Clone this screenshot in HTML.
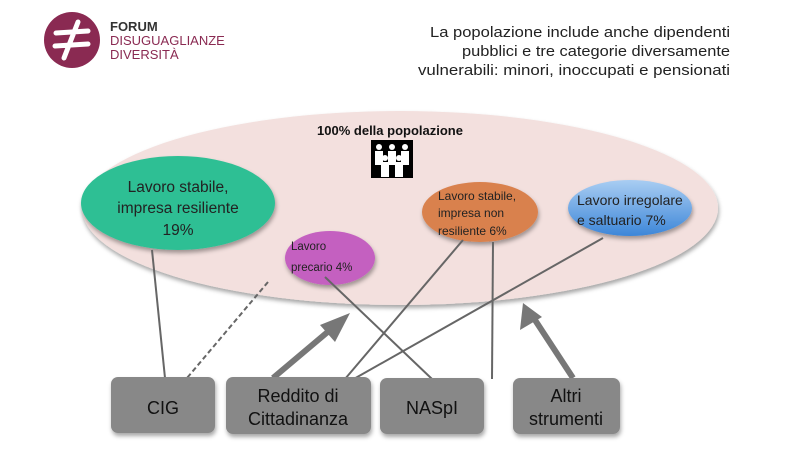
<!DOCTYPE html>
<html><head><meta charset="utf-8"><style>
body{margin:0;width:800px;height:450px;background:#fff;overflow:hidden;font-family:"Liberation Sans","DejaVu Sans",sans-serif}
</style></head><body>
<svg width="800" height="450" viewBox="0 0 800 450" xmlns="http://www.w3.org/2000/svg" font-family="'Liberation Sans','DejaVu Sans',sans-serif">
<defs>
<filter id="sh" x="-20%" y="-20%" width="140%" height="150%"><feDropShadow dx="1" dy="3" stdDeviation="2" flood-opacity="0.35"/></filter>
<linearGradient id="gb" x1="0" y1="0" x2="0" y2="1"><stop offset="0" stop-color="#a9cdf2"/><stop offset="1" stop-color="#3d86d8"/></linearGradient>
</defs>
<!-- logo -->
<circle cx="72" cy="40" r="28" fill="#8a2a52"/>
<path d="M56 33 L88 31 M55 46 L88 44 M78 22 L64 58" stroke="#fff" stroke-width="5" stroke-linecap="round" fill="none"/>
<text x="110" y="31" font-size="13" font-weight="bold" fill="#333">FORUM</text>
<text x="110" y="45" font-size="13" fill="#8a2a52">DISUGUAGLIANZE</text>
<text x="110" y="59" font-size="13" fill="#8a2a52">DIVERSITÀ</text>
<g font-size="14.5" fill="#222" text-anchor="end">
<text x="730" y="37" textLength="300" lengthAdjust="spacingAndGlyphs">La popolazione include anche dipendenti</text>
<text x="730" y="56" textLength="268" lengthAdjust="spacingAndGlyphs">pubblici e tre categorie diversamente</text>
<text x="730" y="75" textLength="312" lengthAdjust="spacingAndGlyphs">vulnerabili: minori, inoccupati e pensionati</text>
</g>
<ellipse cx="400" cy="208" rx="318" ry="97" fill="#f3e0de" filter="url(#sh)"/>
<text x="390" y="135" font-size="13" font-weight="bold" text-anchor="middle" fill="#111">100% della popolazione</text>
<rect x="371" y="140" width="42" height="38" fill="#000"/>
<g fill="#fff"><circle cx="379" cy="147" r="3"/><circle cx="392" cy="147" r="3"/><circle cx="405" cy="147" r="3"/>
<rect x="375" y="151" width="8" height="14"/><rect x="388" y="151" width="8" height="14"/><rect x="401" y="151" width="8" height="14"/>
<circle cx="385" cy="158" r="3"/><circle cx="399" cy="158" r="3"/><rect x="381" y="162" width="8" height="15"/><rect x="395" y="162" width="8" height="15"/></g>
<ellipse cx="178" cy="203" rx="97" ry="47" fill="#2fbf94" filter="url(#sh)"/>
<g font-size="15.5" fill="#222" text-anchor="middle"><text x="178" y="192">Lavoro stabile,</text><text x="178" y="213">impresa resiliente</text><text x="178" y="235">19%</text></g>
<ellipse cx="330" cy="258" rx="45" ry="27" fill="#c460c0" filter="url(#sh)"/>
<g font-size="11.5" fill="#222"><text x="291" y="250">Lavoro</text><text x="291" y="271">precario 4%</text></g>
<ellipse cx="480" cy="212" rx="58" ry="30" fill="#d9814e" filter="url(#sh)"/>
<g font-size="12" fill="#222"><text x="438" y="200">Lavoro stabile,</text><text x="438" y="217">impresa non</text><text x="438" y="235">resiliente 6%</text></g>
<ellipse cx="630" cy="208" rx="62" ry="28" fill="url(#gb)" filter="url(#sh)"/>
<g font-size="14" fill="#222"><text x="577" y="205">Lavoro irregolare</text><text x="577" y="225">e saltuario 7%</text></g>
<!-- connectors -->
<g stroke="#666" stroke-width="2" fill="none">
<line x1="152" y1="250" x2="165" y2="378"/>
<line x1="268" y1="282" x2="187" y2="378" stroke-dasharray="5,3"/>
<line x1="325" y1="277" x2="432" y2="379"/>
<line x1="463" y1="240" x2="345" y2="379"/>
<line x1="493" y1="242" x2="492" y2="379"/>
<line x1="603" y1="238" x2="352" y2="380"/>
</g>
<g stroke="#777" stroke-width="6" fill="#777">
<line x1="273" y1="378" x2="330" y2="330"/>
<line x1="573" y1="378" x2="535" y2="320"/>
</g>
<polygon points="350,313 320,325 335,342" fill="#777"/>
<polygon points="523,303 520,330 542,317" fill="#777"/>
<g filter="url(#sh)" fill="#888">
<rect x="111" y="377" width="104" height="56" rx="7"/>
<rect x="226" y="377" width="145" height="57" rx="7"/>
<rect x="380" y="378" width="104" height="56" rx="7"/>
<rect x="513" y="378" width="107" height="56" rx="7"/>
</g>
<g font-size="18" fill="#111" text-anchor="middle">
<text x="163" y="414">CIG</text>
<text x="298" y="402">Reddito di</text><text x="298" y="425">Cittadinanza</text>
<text x="432" y="414">NASpI</text>
<text x="566" y="402">Altri</text><text x="566" y="425">strumenti</text>
</g>
</svg>
</body></html>
